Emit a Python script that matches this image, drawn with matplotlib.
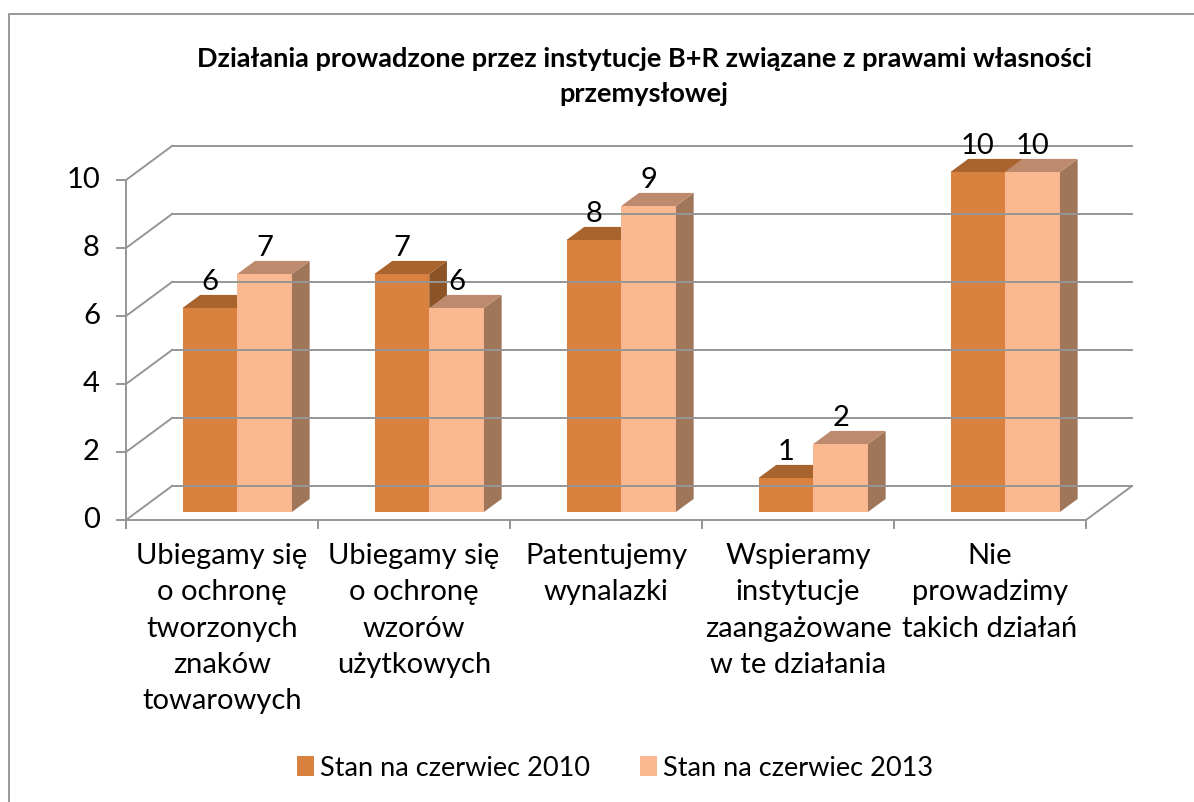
import matplotlib
matplotlib.use("Agg")
import matplotlib.pyplot as plt
from matplotlib.patches import Polygon, Rectangle, Patch

plt.rcParams['font.family'] = ['Lato', 'DejaVu Sans']

categories = [
    "Ubiegamy się\no ochronę\ntworzonych\nznaków\ntowarowych",
    "Ubiegamy się\no ochronę\nwzorów\nużytkowych",
    "Patentujemy\nwynalazki",
    "Wspieramy\ninstytucje\nzaangażowane\nw te działania",
    "Nie\nprowadzimy\ntakich działań",
]
series_names = ["Stan na czerwiec 2010", "Stan na czerwiec 2013"]
values_2010 = [6, 7, 8, 1, 10]
values_2013 = [7, 6, 9, 2, 10]
yticks = [0, 2, 4, 6, 8, 10]
title = "Działania prowadzone przez instytucje B+R związane z prawami własności\nprzemysłowej"

# colours: front, top, side
col_2010 = ("#D9823F", "#A9632C", "#8C5426")
col_2013 = ("#FAB891", "#BE8A6D", "#A0765B")
grid_col = "#969696"

W, H = 1194, 802
fig = plt.figure(figsize=(W / 100, H / 100), dpi=100)

# pixel scale: 192 px per category, 34 px per unit
cat_px, val_px = 192.0, 34.0
ax = fig.add_axes([126 / W, (H - 520) / H, 1006 / W, 374 / H])
ax.set_xlim(0, 1006 / cat_px)
ax.set_ylim(0, 374 / val_px)
ax.axis("off")

# full depth of the floor in data units
DX, DY = 46 / cat_px, 1.0
d0, d1 = 0.235, 0.62          # bar front/back depth fraction
bar_off, bar_w = 0.238, 0.285
n = len(categories)
fs = 21

lw = 1.4
# back wall + left wall gridlines
for v in yticks:
    ax.plot([DX, n + DX], [v + DY, v + DY], color=grid_col, lw=lw, clip_on=False)
    ax.plot([0, DX], [v, v + DY], color=grid_col, lw=lw, clip_on=False)
    ax.plot([-9 / cat_px, 0], [v, v], color=grid_col, lw=lw, clip_on=False)
    ax.text(-26 / cat_px, v, str(v), ha="right", va="center", fontsize=fs)
# floor
ax.plot([0, n], [0, 0], color=grid_col, lw=lw, clip_on=False)
ax.plot([n, n + DX], [0, DY], color=grid_col, lw=lw, clip_on=False)
# y axis
ax.plot([0, 0], [-8 / val_px, 10], color=grid_col, lw=lw, clip_on=False)
# category ticks
for i in range(n + 1):
    ax.plot([i, i], [0, -8 / val_px], color=grid_col, lw=lw, clip_on=False)


def draw_bar(x0, h, cols, label):
    sx, sy = d0 * DX, d0 * DY
    bx, by = (d1 - d0) * DX, (d1 - d0) * DY
    xf = x0 + sx
    ax.bar(xf, h, width=bar_w, bottom=sy, align="edge", color=cols[0],
           linewidth=0, clip_on=False)
    top = [(xf, sy + h), (xf + bar_w, sy + h), (xf + bar_w + bx, sy + h + by), (xf + bx, sy + h + by)]
    side = [(xf + bar_w, sy), (xf + bar_w, sy + h), (xf + bar_w + bx, sy + h + by), (xf + bar_w + bx, sy + by)]
    ax.add_patch(Polygon(side, closed=True, facecolor=cols[2], lw=0, clip_on=False))
    ax.add_patch(Polygon(top, closed=True, facecolor=cols[1], lw=0, clip_on=False))
    ax.text(xf + bar_w / 2, sy + h + by + 5 / val_px, label, ha="center", va="baseline",
            fontsize=fs)


for i in range(n):
    x0 = i + bar_off
    draw_bar(x0, values_2010[i], col_2010, str(values_2010[i]))
    draw_bar(x0 + bar_w, values_2013[i], col_2013, str(values_2013[i]))
    ax.text(i + 0.5, -23 / val_px, categories[i], ha="center", va="top",
            fontsize=fs, linespacing=1.49)

fig.text(644 / W, 1 - 47 / H, title, ha="center", va="top", fontsize=19.5,
         fontweight="bold", linespacing=1.55)

handles = [Patch(facecolor=col_2010[0]), Patch(facecolor=col_2013[0])]
fig.legend(handles, series_names, loc="center", bbox_to_anchor=(615 / W, 1 - 768 / H),
           ncol=2, frameon=False, fontsize=19.5, handlelength=0.63, handleheight=0.74,
           handletextpad=0.22, columnspacing=1.85)

fig.add_artist(Rectangle((8.5 / W, -0.05), 1.2, 1 - 13.5 / H + 0.05, transform=fig.transFigure,
                         fill=False, edgecolor="#888888", lw=1.2))

fig.savefig("out.png", dpi=100)
